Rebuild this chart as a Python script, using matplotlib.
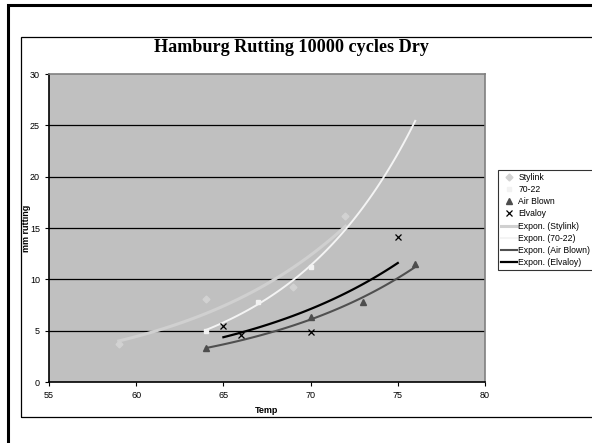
import matplotlib.pyplot as plt
import numpy as np

plt.rcParams["font.family"] = ["Liberation Sans", "DejaVu Sans"]

# data
stylink_t = [59, 64, 69, 72]
stylink_r = [3.7, 8.1, 9.3, 16.2]
r7022_t = [64, 67, 70]
r7022_r = [5.0, 7.8, 11.2]
airblown_t = [64, 70, 73, 76]
airblown_r = [3.3, 6.3, 7.8, 11.5]
elvaloy_t = [65, 66, 70, 75]
elvaloy_r = [5.5, 4.6, 4.85, 14.1]

# x span of each exponential trendline (70-22 is forecast to 76)
trend_span = {"Stylink": (59, 72), "70-22": (64, 76),
              "Air Blown": (64, 76), "Elvaloy": (65, 75)}


def expon(t, r, span):
    b, a = np.polyfit(t, np.log(r), 1)
    xs = np.linspace(span[0], span[1], 100)
    return xs, np.exp(a + b * xs)


fig = plt.figure(figsize=(5.92, 4.43), dpi=100)
fig.patch.set_facecolor("white")

# outer frames
fig.add_artist(plt.Rectangle((8 / 592, -0.1), 1.2, 1 - 5 / 443 + 0.1, transform=fig.transFigure,
                             fill=False, edgecolor="black", linewidth=2.2))
fig.add_artist(plt.Rectangle((21 / 592, 1 - 417 / 443), 1.2, (417 - 37) / 443, transform=fig.transFigure,
                             fill=False, edgecolor="black", linewidth=0.9))

ax = fig.add_axes([49 / 592, 1 - 382 / 443, (485 - 49) / 592, (382 - 74) / 443])
ax.set_facecolor("#C0C0C0")
ax.set_xlim(55, 80)
ax.set_ylim(0, 30)
ax.set_xticks(range(55, 81, 5))
ax.set_yticks(range(0, 31, 5))
for y in range(5, 30, 5):
    ax.axhline(y, color="black", linewidth=0.9, zorder=1)

ax.spines["left"].set_color("black")
ax.spines["bottom"].set_color("black")
ax.spines["top"].set_color("#808080")
ax.spines["right"].set_color("#808080")
for s in ax.spines.values():
    s.set_linewidth(1.2)
ax.tick_params(labelsize=6.5, length=3, width=0.8, direction="out", pad=3.5)

ax.plot(stylink_t, stylink_r, linestyle="none", marker="D", markersize=3.5,
        color="#D2D2D2", label="Stylink", zorder=3)
ax.plot(r7022_t, r7022_r, linestyle="none", marker="s", markersize=3.5,
        color="#F2F2F2", label="70-22", zorder=3)
ax.plot(airblown_t, airblown_r, linestyle="none", marker="^", markersize=4,
        color="#4D4D4D", label="Air Blown", zorder=3)
ax.plot(elvaloy_t, elvaloy_r, linestyle="none", marker="x", markersize=4.5,
        markeredgewidth=0.9, color="black", label="Elvaloy", zorder=3)

xs, ys = expon(stylink_t, stylink_r, trend_span["Stylink"])
ax.plot(xs, ys, color="#D0D0D0", linewidth=2.2, label="Expon. (Stylink)", zorder=2)
xs, ys = expon(r7022_t, r7022_r, trend_span["70-22"])
ax.plot(xs, ys, color="#F4F4F4", linewidth=1.4, label="Expon. (70-22)", zorder=2)
xs, ys = expon(airblown_t, airblown_r, trend_span["Air Blown"])
ax.plot(xs, ys, color="#505050", linewidth=1.5, label="Expon. (Air Blown)", zorder=2)
xs, ys = expon(elvaloy_t, elvaloy_r, trend_span["Elvaloy"])
ax.plot(xs, ys, color="black", linewidth=1.6, label="Expon. (Elvaloy)", zorder=2)

ax.set_xlabel("Temp", fontsize=6.5, fontweight="bold", labelpad=4)
ax.set_ylabel("mm rutting", fontsize=6.5, fontweight="bold", labelpad=-1)
fig.text(291 / 592, 1 - 48 / 443, "Hamburg Rutting 10000 cycles Dry", ha="center", va="center",
         fontsize=13.1, fontweight="bold", family="Liberation Serif")

leg = ax.legend(loc="center left", bbox_to_anchor=(498 / 592, 1 - 220 / 443),
                bbox_transform=fig.transFigure, fontsize=6.2, frameon=True, fancybox=False,
                edgecolor="black", borderpad=0.35, labelspacing=0.38, handlelength=1.8,
                handletextpad=0.2, borderaxespad=0)
leg.get_frame().set_linewidth(0.8)

plt.savefig("out.png", dpi=100)
